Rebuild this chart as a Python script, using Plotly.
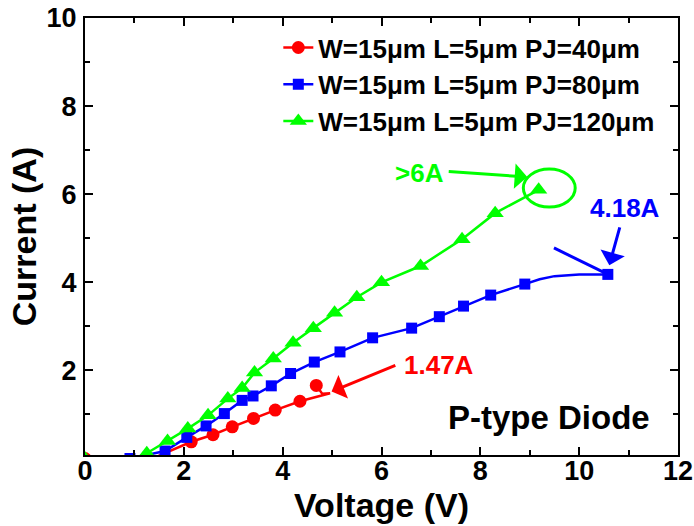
import plotly.graph_objects as go

# ---------------- data ----------------
legend_names = ["W=15μm L=5μm PJ=40μm", "W=15μm L=5μm PJ=80μm", "W=15μm L=5μm PJ=120μm"]

# PJ=40um (red)
red_line_x = [0, 1.45, 2.15, 2.59, 2.98, 3.41, 3.85, 4.35, 4.96, 4.80, 4.68]
red_line_y = [0, 0.04, 0.38, 0.54, 0.72, 0.91, 1.10, 1.30, 1.48, 1.47, 1.66]
red_mark_x = [0, 2.15, 2.59, 2.98, 3.41, 3.85, 4.35, 4.68]
red_mark_y = [0, 0.38, 0.54, 0.72, 0.91, 1.10, 1.30, 1.66]

# PJ=80um (blue)
blue_line_x = [0.91, 1.62, 2.06, 2.45, 2.82, 3.18, 3.40, 3.77, 4.16, 4.64, 5.16, 5.82,
               6.61, 7.17, 7.66, 8.21, 8.90, 9.20, 9.50, 10.0, 10.58]
blue_line_y = [0.0, 0.17, 0.48, 0.74, 1.02, 1.32, 1.42, 1.65, 1.93, 2.19, 2.42, 2.74,
               2.96, 3.22, 3.46, 3.71, 3.96, 4.07, 4.14, 4.18, 4.18]
blue_mark_x = [0.91, 1.62, 2.06, 2.45, 2.82, 3.18, 3.40, 3.77, 4.16, 4.64, 5.16, 5.82,
               6.61, 7.17, 7.66, 8.21, 8.90, 10.58]
blue_mark_y = [0.0, 0.17, 0.48, 0.74, 1.02, 1.32, 1.42, 1.65, 1.93, 2.19, 2.42, 2.74,
               2.96, 3.22, 3.46, 3.71, 3.96, 4.18]

# PJ=120um (green)
green_line_x = [0, 1.0, 1.25, 1.67, 2.08, 2.49, 2.89, 3.18, 3.43, 3.81, 4.21, 4.62, 5.05,
                5.50, 6.00, 6.79, 7.63, 8.30, 9.18]
green_line_y = [0, 0.0, 0.12, 0.40, 0.68, 0.98, 1.36, 1.60, 1.95, 2.27, 2.63, 2.96, 3.31,
                3.66, 4.00, 4.37, 4.98, 5.57, 6.10]
green_mark_x = [0, 1.25, 1.67, 2.08, 2.49, 2.89, 3.18, 3.43, 3.81, 4.21, 4.62, 5.05,
                5.50, 6.00, 6.79, 7.63, 8.30, 9.18]
green_mark_y = [0, 0.12, 0.40, 0.68, 0.98, 1.36, 1.60, 1.95, 2.27, 2.63, 2.96, 3.31,
                3.66, 4.00, 4.37, 4.98, 5.57, 6.10]

x_ticks = [0, 2, 4, 6, 8, 10, 12]
y_ticks = [2, 4, 6, 8, 10]

# ---------------- styling ----------------
FONT = "Liberation Sans, Arial, sans-serif"
RED, BLUE, GREEN = "#FF0000", "#0000FF", "#00FF00"
LW = 2.5

series = [
    (red_line_x, red_line_y, red_mark_x, red_mark_y, RED, "circle", 13),
    (blue_line_x, blue_line_y, blue_mark_x, blue_mark_y, BLUE, "square", 11),
    (green_line_x, green_line_y, green_mark_x, green_mark_y, GREEN, "triangle-up", 15),
]

fig = go.Figure()
for i, (lx, ly, mx, my, col, sym, ms) in enumerate(series):
    fig.add_trace(go.Scatter(x=lx, y=ly, mode="lines", line=dict(color=col, width=LW),
                             showlegend=False, hoverinfo="skip"))
    fig.add_trace(go.Scatter(x=mx, y=my, mode="markers",
                             marker=dict(color=col, symbol=sym, size=ms, line=dict(width=0)),
                             showlegend=False))
    # legend entry
    fig.add_trace(go.Scatter(x=[None], y=[None], mode="lines+markers", name=legend_names[i],
                             line=dict(color=col, width=LW),
                             marker=dict(color=col, symbol=sym, size=ms, line=dict(width=0)),
                             legendgroup=str(i), showlegend=True))

axis_common = dict(
    showline=True, linewidth=2, linecolor="black", mirror="ticks",
    ticks="inside", ticklen=8, tickwidth=2, tickcolor="black",
    showgrid=False, zeroline=False, automargin=False,
    tickfont=dict(family=FONT, size=27, color="black", weight="bold"),
    minor=dict(ticks="inside", ticklen=5, tickwidth=2, tickcolor="black", dtick=1, showgrid=False),
)

fig.update_xaxes(range=[0, 12], tickvals=x_ticks, ticktext=[str(v) for v in x_ticks],
                 title=dict(text="Voltage (V)", standoff=0,
                            font=dict(family=FONT, size=34, color="black", weight="bold")),
                 ticklabelstandoff=-9, **axis_common)
fig.update_yaxes(range=[0.08, 10], tickvals=y_ticks, ticktext=[str(v) for v in y_ticks],
                 title=dict(text="Current (A)", standoff=0,
                            font=dict(family=FONT, size=34, color="black", weight="bold")),
                 ticklabelstandoff=1, **axis_common)

# ellipse around the >6A point
fig.add_shape(type="circle", xref="x", yref="y", x0=8.87, x1=9.92, y0=5.71, y1=6.57,
              line=dict(color=GREEN, width=3))
# plain blue line into 4.18A point
fig.add_shape(type="line", xref="x", yref="y", x0=9.49, y0=4.78, x1=10.49, y1=4.23,
              line=dict(color=BLUE, width=3))

ann_font = lambda c, s=26: dict(family=FONT, size=s, color=c, weight="bold")

arrows = [
    (7.33, 6.52, 8.95, 6.39, GREEN),
    (10.83, 5.28, 10.61, 4.39, BLUE),
    (6.31, 2.13, 4.99, 1.52, RED),
]
for ax_, ay_, x_, y_, col in arrows:
    fig.add_annotation(x=x_, y=y_, ax=ax_, ay=ay_, xref="x", yref="y", axref="x", ayref="y",
                       text="", showarrow=True, arrowhead=1, arrowsize=1.4, arrowwidth=3,
                       arrowcolor=col, standoff=0, startstandoff=0)

labels = [
    (6.76, 6.48, ">6A", GREEN, 26),
    (10.93, 5.69, "4.18A", BLUE, 26),
    (7.17, 2.13, "1.47A", RED, 26),
    (9.39, 0.93, "P-type Diode", "black", 33),
]
for x_, y_, t, col, s in labels:
    fig.add_annotation(x=x_, y=y_, xref="x", yref="y", text=t, showarrow=False,
                       font=ann_font(col, s), xanchor="center", yanchor="middle")

fig.update_layout(
    width=694, height=526,
    margin=dict(l=85, r=16, t=18, b=71),
    paper_bgcolor="white", plot_bgcolor="white",
    font=dict(family=FONT, color="black"),
    legend=dict(x=0.326, y=0.986, xanchor="left", yanchor="top",
                bgcolor="rgba(0,0,0,0)", borderwidth=0,
                font=dict(family=FONT, size=26, color="black", weight="bold"),
                traceorder="grouped", tracegroupgap=0),
)

fig.write_html("out.html")
